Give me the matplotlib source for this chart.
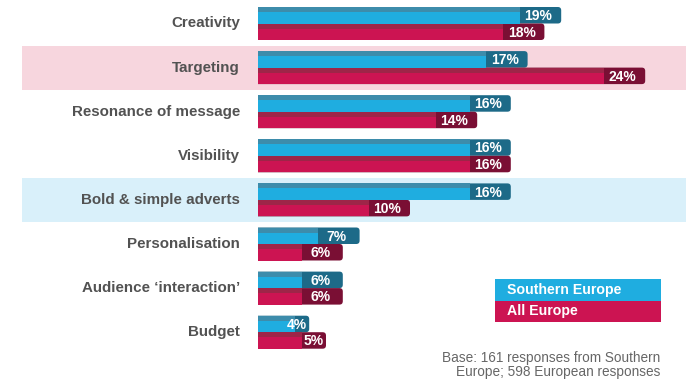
import numpy as np
import matplotlib
matplotlib.use("Agg")
import matplotlib.pyplot as plt
from matplotlib.patches import FancyBboxPatch
from matplotlib.transforms import blended_transform_factory

plt.rcParams['font.family'] = ['Liberation Sans', 'DejaVu Sans']

categories = ["Creativity", "Targeting", "Resonance of message", "Visibility",
              "Bold & simple adverts", "Personalisation", "Audience \u2018interaction\u2019", "Budget"]
southern = [19, 17, 16, 16, 16, 7, 6, 4]
all_europe = [18, 24, 14, 16, 10, 6, 6, 5]
series_names = ["Southern Europe", "All Europe"]
highlights = {"Targeting": "#f7d6de", "Bold & simple adverts": "#d9f0fa"}
base_note = "Base: 161 responses from Southern\nEurope; 598 European responses"

W, H = 700, 390
px_per_pct = 16.8
px_per_row = 44.1
zero_px = 242
bar_left_px = 258
top_px = 23.5

blue, blue_top, blue_end = "#1fade0", "#3d8cab", "#1d6a88"
red, red_top, red_end = "#cc1452", "#9e2548", "#7a0f34"

fig = plt.figure(figsize=(W / 100, H / 100), dpi=100)
ax = fig.add_axes([bar_left_px / W, 0, (W - bar_left_px) / W, 1])
x0 = (bar_left_px - zero_px) / px_per_pct
ax.set_xlim(x0, x0 + (W - bar_left_px) / px_per_pct)
ax.set_ylim((H - top_px) / px_per_row, -top_px / px_per_row)
ax.axis("off")

y = np.arange(len(categories))
h = 16.5 / px_per_row
strip = 5 / px_per_row
aspect = px_per_pct / px_per_row

# highlight bands behind rows
for i, c in enumerate(categories):
    if c in highlights:
        ax.axhspan(i - 0.5, i + 0.5, xmin=(22 - bar_left_px) / (W - bar_left_px),
                   xmax=(686 - bar_left_px) / (W - bar_left_px),
                   color=highlights[c], clip_on=False, zorder=0, lw=0)


def dark_width(v):
    return 2.45 if v >= 6 else 0.6 * (v - 2.6)


def draw_series(vals, ys, main, top, end):
    for v, yy in zip(vals, ys):
        p = FancyBboxPatch((-1, yy), v + 1, h,
                           boxstyle="round,pad=0,rounding_size=0.2",
                           mutation_aspect=aspect, fc=end, ec="none", zorder=2)
        ax.add_patch(p)
    dw = np.array([dark_width(v) for v in vals])
    ax.barh(ys + h / 2, np.array(vals) - dw, height=h, left=0, align="center",
            color=main, lw=0, zorder=3)
    ax.barh(ys + strip / 2, np.array(vals) - dw, height=strip, left=0, align="center",
            color=top, lw=0, zorder=4)
    for v, yy in zip(vals, ys):
        off = 1.35 if v >= 6 else 0.75
        ax.text(v - off, yy + h / 2 + 0.02, f"{v}%", ha="center", va="center",
                color="white", fontsize=10, fontweight="bold", zorder=5)


draw_series(southern, y - h, blue, blue_top, blue_end)
draw_series(all_europe, y, red, red_top, red_end)

# category labels
tr = blended_transform_factory(fig.transFigure, ax.transData)
for i, c in enumerate(categories):
    ax.text(240 / W, i, c, transform=tr, ha="right", va="center",
            fontsize=10.9, fontweight="bold", color="#525252")

# legend box
lax = fig.add_axes([495 / W, (H - 322) / H, 166 / W, 43 / H])
lax.set_xlim(0, 1)
lax.set_ylim(0, 2)
lax.axis("off")
lax.axhspan(1, 2, color=blue, lw=0)
lax.axhspan(0, 1, color=red, lw=0)
lax.text(0.072, 1.5, series_names[0], ha="left", va="center", color="white",
         fontsize=10.2, fontweight="bold")
lax.text(0.072, 0.5, series_names[1], ha="left", va="center", color="white",
         fontsize=10.2, fontweight="bold")

fig.text(660 / W, 1 - 365 / H, base_note, ha="right", va="center", ma="right",
         fontsize=9.8, color="#666666", linespacing=1.05)

fig.savefig("out.png", dpi=100)
